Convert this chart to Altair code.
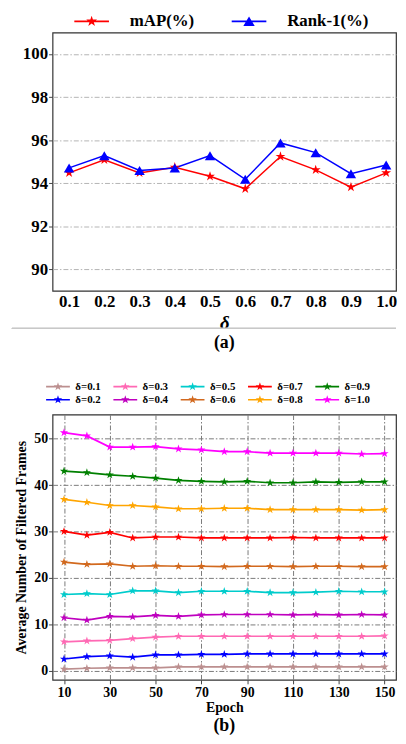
import math
import altair as alt
import pandas as pd

FONT = "Liberation Serif"

# ---------------- data: chart (a) ----------------
delta_vals = [0.1, 0.2, 0.3, 0.4, 0.5, 0.6, 0.7, 0.8, 0.9, 1.0]
map_vals = [94.48, 95.09, 94.48, 94.74, 94.32, 93.74, 95.24, 94.62, 93.82, 94.48]
rank1_vals = [94.71, 95.28, 94.59, 94.71, 95.28, 94.18, 95.87, 95.42, 94.44, 94.85]
series_a = ["mAP(%)", "Rank-1(%)"]
colors_a = ["#ff0000", "#0000ff"]
y_ticks_a = [90, 92, 94, 96, 98, 100]

# ---------------- data: chart (b) ----------------
epochs = [10, 20, 30, 40, 50, 60, 70, 80, 90, 100, 110, 120, 130, 140, 150]
d01 = [0.3, 0.5, 0.6, 0.6, 0.6, 0.8, 0.8, 0.8, 0.8, 0.8, 0.8, 0.8, 0.8, 0.8, 0.8]
d02 = [2.5, 3.0, 3.2, 2.9, 3.4, 3.4, 3.5, 3.5, 3.6, 3.6, 3.6, 3.6, 3.6, 3.6, 3.6]
d03 = [6.2, 6.4, 6.5, 6.9, 7.2, 7.4, 7.4, 7.4, 7.4, 7.4, 7.4, 7.4, 7.4, 7.4, 7.5]
d04 = [11.4, 10.9, 11.7, 11.6, 11.9, 11.7, 12.0, 12.1, 12.1, 12.1, 12.0, 12.1, 12.0, 12.1, 12.0]
d05 = [16.4, 16.6, 16.4, 17.2, 17.2, 16.8, 17.1, 17.1, 17.1, 16.8, 16.8, 16.9, 17.1, 17.0, 17.0]
d06 = [23.4, 22.9, 23.0, 22.5, 22.6, 22.5, 22.5, 22.4, 22.5, 22.5, 22.4, 22.5, 22.5, 22.4, 22.4]
d07 = [30.0, 29.2, 29.8, 28.6, 28.8, 28.8, 28.6, 28.6, 28.6, 28.6, 28.7, 28.6, 28.6, 28.6, 28.6]
d08 = [36.9, 36.3, 35.6, 35.6, 35.3, 34.9, 34.9, 35.0, 35.0, 34.7, 34.7, 34.7, 34.7, 34.6, 34.7]
d09 = [43.0, 42.7, 42.2, 41.9, 41.5, 41.0, 40.8, 40.7, 40.8, 40.5, 40.5, 40.7, 40.6, 40.7, 40.7]
d10 = [51.3, 50.6, 48.2, 48.2, 48.3, 47.8, 47.6, 47.2, 47.2, 46.9, 46.9, 46.9, 46.9, 46.7, 46.8]
series_b = ["δ=0.1", "δ=0.2", "δ=0.3", "δ=0.4", "δ=0.5",
            "δ=0.6", "δ=0.7", "δ=0.8", "δ=0.9", "δ=1.0"]
values_b = [d01, d02, d03, d04, d05, d06, d07, d08, d09, d10]
colors_b = ["#bc8f8f", "#0000ff", "#ff69b4", "#bf00bf", "#00cccc",
            "#d2691e", "#ff0000", "#ffa500", "#008000", "#ff00ff"]
x_ticks_b = [10, 30, 50, 70, 90, 110, 130, 150]
y_ticks_b = [0, 10, 20, 30, 40, 50]


# ---------------- marker shapes ----------------
def star_path(scale=1.0, dx=0.0):
    pts = []
    for k in range(10):
        ang = math.radians(-90 + 36 * k)
        r = scale if k % 2 == 0 else scale * 0.382
        pts.append((dx + r * math.cos(ang), r * math.sin(ang)))
    return "M" + "L".join(f"{x:.3f},{y:.3f}" for x, y in pts) + "Z"


def bar_path(half_len, half_thick):
    return (f"M{-half_len},{-half_thick}L{half_len},{-half_thick}"
            f"L{half_len},{half_thick}L{-half_len},{half_thick}Z")


STAR = star_path(1.0)
LEG_STAR_A = bar_path(3.5, 0.16) + star_path(1.15)
LEG_TRI_A = bar_path(3.5, 0.16) + "M0,-1.0L1.15,0.95L-1.15,0.95Z"
LEG_STAR_B = bar_path(2.67, 0.18) + star_path(1.0)

# ---------------- chart (a) ----------------
rows_a = []
for d, m, r in zip(delta_vals, map_vals, rank1_vals):
    rows_a.append({"delta": d, "series": series_a[0], "line": series_a[0], "value": m})
    rows_a.append({"delta": d, "series": series_a[1], "line": series_a[1], "value": r})
df_a = pd.DataFrame(rows_a)

W_A, H_A = 347, 261

x_a = alt.X("delta:Q",
            scale=alt.Scale(domain=[0.053, 1.028], nice=False, zero=False),
            axis=alt.Axis(values=delta_vals, format=".1f", title="δ",
                          labelFont=FONT, labelFontSize=17, labelFontWeight="bold",
                          labelColor="black", labelPadding=3,
                          ticks=False, domain=False, grid=False,
                          titleFont=FONT, titleFontSize=19, titleFontWeight="bold",
                          titleFontStyle="italic", titleColor="black",
                          titlePadding=4, labelFlush=False))
y_a = alt.Y("value:Q",
            scale=alt.Scale(domain=[89, 101], nice=False, zero=False),
            axis=alt.Axis(values=y_ticks_a, title=None,
                          labelFont=FONT, labelFontSize=17, labelFontWeight="bold",
                          labelColor="black", labelPadding=1,
                          ticks=True, tickSize=4, tickColor="#444", domain=False,
                          grid=True, gridColor="#b4b4b4", gridWidth=1,
                          gridDash=[5, 2, 1.5, 2]))

# helper scales use a reversed domain so they are not merged into the colour legend
rev_a = series_a[::-1]
line_a = alt.Chart(df_a).mark_line(strokeWidth=1.5).encode(
    x=x_a, y=y_a,
    stroke=alt.Stroke("line:N", scale=alt.Scale(domain=rev_a, range=colors_a[::-1]),
                      legend=None),
    detail="line:N",
)

legend_shape_expr = (f"datum.value == '{series_a[0]}' ? '{LEG_STAR_A}' : '{LEG_TRI_A}'")

points_a = alt.Chart(df_a).mark_point(filled=True, opacity=1, size=110).encode(
    x=x_a, y=y_a,
    color=alt.Color("series:N", scale=alt.Scale(domain=series_a, range=colors_a),
                    legend=alt.Legend(
                        orient="none", legendX=31, legendY=-20,
                        direction="horizontal", title=None,
                        symbolType=alt.ExprRef(expr=legend_shape_expr),
                        symbolSize=100, symbolStrokeWidth=0,
                        labelFont=FONT, labelFontSize=17, labelFontWeight="bold",
                        labelColor="black", labelOffset=30, columnPadding=37)),
    shape=alt.Shape("line:N",
                    scale=alt.Scale(domain=rev_a, range=["triangle-up", STAR]),
                    legend=None),
)

sep_a = alt.Chart(df_a).mark_rule(color="#c8c8c8", strokeWidth=1).encode(
    x=alt.value(-41), x2=alt.value(W_A), y=alt.value(H_A + 38)
)

chart_a = alt.layer(line_a, points_a, sep_a).properties(
    width=W_A, height=H_A,
    title=alt.TitleParams("(a)", orient="bottom", font=FONT, fontSize=18,
                          fontWeight="bold", color="black", offset=2),
)

# ---------------- chart (b) ----------------
rows_b = []
for name, vals in zip(series_b, values_b):
    for e, v in zip(epochs, vals):
        rows_b.append({"epoch": e, "series": name, "line": name, "value": v})
df_b = pd.DataFrame(rows_b)

W_B, H_B = 347, 268

x_b = alt.X("epoch:Q",
            scale=alt.Scale(domain=[5, 155], nice=False, zero=False),
            axis=alt.Axis(values=x_ticks_b, title="Epoch",
                          labelFont=FONT, labelFontSize=14, labelFontWeight="bold",
                          labelColor="black", labelPadding=2,
                          ticks=True, tickSize=4, tickColor="#444", domain=False,
                          grid=True, gridColor="#7a7a7a", gridWidth=1,
                          gridDash=[5, 2, 1.5, 2],
                          titleFont=FONT, titleFontSize=14, titleFontWeight="bold",
                          titleColor="black", titlePadding=1, labelFlush=False))
y_b = alt.Y("value:Q",
            scale=alt.Scale(domain=[-2, 55.2], nice=False, zero=False),
            axis=alt.Axis(values=y_ticks_b, title="Average Number of Filtered Frames",
                          labelFont=FONT, labelFontSize=14, labelFontWeight="bold",
                          labelColor="black", labelPadding=1,
                          ticks=True, tickSize=4, tickColor="#444", domain=False,
                          grid=True, gridColor="#7a7a7a", gridWidth=1,
                          gridDash=[5, 2, 1.5, 2],
                          titleFont=FONT, titleFontSize=14, titleFontWeight="bold",
                          titleColor="black", titlePadding=5))

line_b = alt.Chart(df_b).mark_line(strokeWidth=1.7).encode(
    x=x_b, y=y_b,
    stroke=alt.Stroke("line:N",
                      scale=alt.Scale(domain=series_b[::-1], range=colors_b[::-1]),
                      legend=None),
    detail="line:N",
)
points_b = alt.Chart(df_b).mark_point(filled=True, opacity=1, size=76, shape=STAR).encode(
    x=x_b, y=y_b,
    color=alt.Color("series:N",
                    scale=alt.Scale(domain=series_b, range=colors_b),
                    legend=alt.Legend(
                        orient="none", legendX=0, legendY=-34,
                        columns=5, title=None,
                        symbolType=LEG_STAR_B, symbolSize=81, symbolStrokeWidth=0,
                        labelFont=FONT, labelFontSize=11, labelFontWeight="bold",
                        labelColor="black", labelOffset=12,
                        columnPadding=12, rowPadding=1.5)),
)

chart_b = alt.layer(line_b, points_b).properties(
    width=W_B, height=H_B,
    title=alt.TitleParams("(b)", orient="bottom", font=FONT, fontSize=18,
                          fontWeight="bold", color="black", offset=3),
)

chart = alt.concat(chart_a, chart_b, columns=1, align="none", spacing=27).resolve_scale(
    color="independent", stroke="independent", shape="independent",
    x="independent", y="independent"
).configure(
    padding={"left": 2, "top": 0, "right": 0, "bottom": 0},
    background="white",
).configure_view(
    stroke="#333333", strokeWidth=1.2,
)

chart.save("out.html", embed_options={"renderer": "svg", "actions": False})
